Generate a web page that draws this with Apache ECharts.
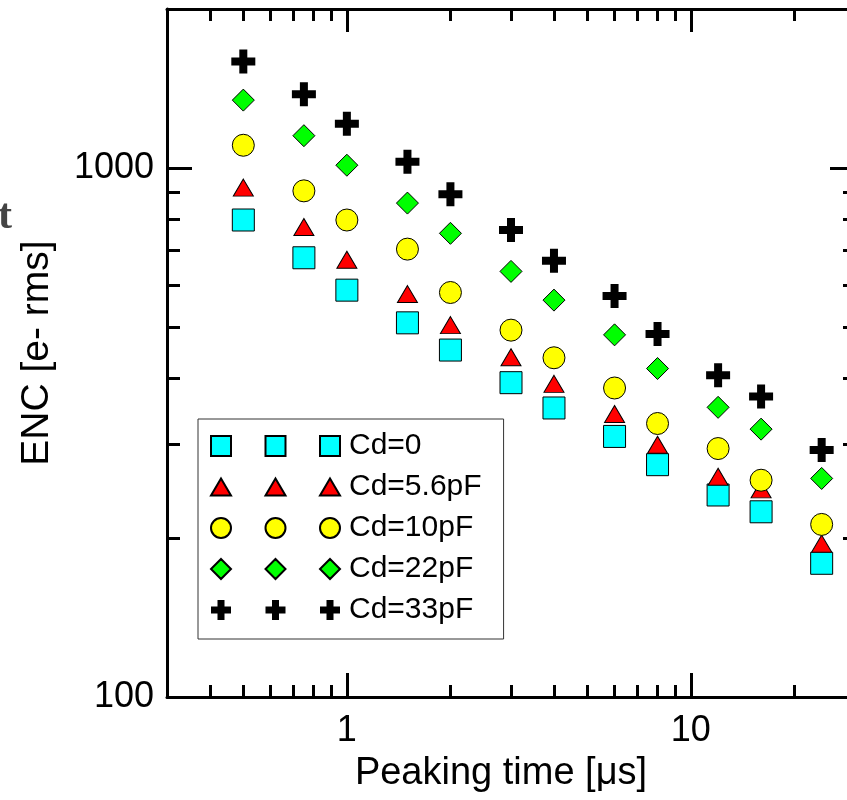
<!DOCTYPE html>
<html>
<head>
<meta charset="utf-8">
<script src="https://cdn.jsdelivr.net/npm/echarts@6/dist/echarts.min.js"></script>
<style>
  html, body { margin: 0; padding: 0; background: #fff; }
  #chart { width: 847px; height: 800px; }
</style>
</head>
<body>
<div id="chart"></div>
<script>
// Peaking time in microseconds (x) and ENC in electrons rms (y)
const peakingTimes = [0.5, 0.75, 1, 1.5, 2, 3, 4, 6, 8, 12, 16, 24];
const seriesNames = ['Cd=0', 'Cd=5.6pF', 'Cd=10pF', 'Cd=22pF', 'Cd=33pF'];
const encCd0   = [798, 677, 588, 510, 453, 393, 352, 311, 275, 241, 224, 179];
const encCd5p6 = [919, 774, 671, 578, 505, 439, 391, 343, 300, 261, 247, 195];
const encCd10  = [1105, 906, 798, 703, 582, 494, 438, 384, 329, 295, 257, 212];
const encCd22  = [1345, 1152, 1013, 859, 753, 638, 563, 484, 418, 353, 321, 259];
const encCd33  = [1591, 1380, 1213, 1028, 893, 764, 668, 573, 486, 406, 370, 293];

// Tick positions for the log axes
const xMajorTicks = [1, 10];
const xMinorTicks = [0.4, 0.5, 0.6, 0.7, 0.8, 0.9, 2, 3, 4, 5, 6, 7, 8, 9, 20, 30];
const yMajorTicks = [100, 1000];
const yMinorTicks = [200, 300, 400, 500, 600, 700, 800, 900, 2000];

const FONT = "'Liberation Sans', Arial, Helvetica, sans-serif";
const PLUS = 'path://M8,0H16V8H24V16H16V24H8V16H0V8H8Z';

// Legend icons: three copies of each marker side by side
const offsets = [0, 54.5, 109];
function triple(shape) { return 'path://' + offsets.map(shape).join(' '); }
const legendIcons = [
  triple(d => `M${d},0H${d + 20}V20H${d}Z`),
  triple(d => `M${d + 10},0L${d + 20},17L${d},17Z`),
  triple(d => `M${d},10A10,10 0 1 1 ${d + 20},10A10,10 0 1 1 ${d},10Z`),
  triple(d => `M${d + 10},0L${d + 20},10L${d + 10},20L${d},10Z`),
  triple(d => `M${d + 6.5},0H${d + 13.5}V6.5H${d + 20}V13.5H${d + 13.5}V20H${d + 6.5}V13.5H${d}V6.5H${d + 6.5}Z`)
];

const valueSets = [encCd0, encCd5p6, encCd10, encCd22, encCd33];
const symbols = ['rect', 'triangle', 'circle', 'diamond', PLUS];
const symbolSizes = [22, [20, 17], 22, 22, 24];
const fills = ['#00FFFF', '#FF0000', '#FFFF00', '#00FF00', '#000000'];

const series = seriesNames.map((name, i) => ({
  name: name,
  type: 'scatter',
  xAxisIndex: 0,
  yAxisIndex: 0,
  symbol: symbols[i],
  symbolSize: symbolSizes[i],
  itemStyle: i === 4
    ? { color: fills[i], borderWidth: 0, opacity: 1 }
    : { color: fills[i], borderColor: '#000', borderWidth: 1, opacity: 1 },
  emphasis: { disabled: true },
  data: peakingTimes.map((t, k) => [t, valueSets[i][k]])
}));

const axisLine = { show: true, onZero: false, lineStyle: { color: '#000', width: 3 } };
const noLine = { show: false, onZero: false };
const plainNumber = v => String(Math.round(v));

function logX(position, ticks, len, extra) {
  return Object.assign({
    type: 'log', logBase: 10, min: 0.3, max: 30, position: position,
    gridIndex: 0, splitLine: { show: false },
    axisTick: { show: true, inside: true, length: len, customValues: ticks,
                lineStyle: { color: '#000', width: 3 } },
    axisLabel: { show: false }
  }, extra);
}
function logY(position, ticks, len, extra) {
  return Object.assign({
    type: 'log', logBase: 10, min: 100, max: 2000, position: position,
    gridIndex: 0, splitLine: { show: false },
    axisTick: { show: true, inside: true, length: len, customValues: ticks,
                lineStyle: { color: '#000', width: 3 } },
    axisLabel: { show: false }
  }, extra);
}

const option = {
  animation: false,
  backgroundColor: '#fff',
  // partial letter at the left margin
  title: {
    text: 't', left: -2, top: 196, padding: 0,
    textStyle: { fontFamily: 'serif', fontSize: 42, fontWeight: 'bold', color: '#444' }
  },
  grid: { left: 167, top: 9, right: -8, bottom: 103, containLabel: false, outerBoundsMode: 'none' },
  xAxis: [
    logX('bottom', xMajorTicks, 24, {
      axisLine: axisLine,
      axisLabel: { show: true, customValues: xMajorTicks, margin: 16, formatter: plainNumber,
                   fontFamily: FONT, fontSize: 36, color: '#000' },
      name: 'Peaking time [\u03bcs]', nameLocation: 'middle', nameGap: 58,
      nameTextStyle: { fontFamily: FONT, fontSize: 38, color: '#000', padding: [0, 20, 0, 0] }
    }),
    logX('bottom', xMinorTicks, 12, { axisLine: noLine }),
    logX('top', xMajorTicks, 23, { axisLine: axisLine }),
    logX('top', xMinorTicks, 12, { axisLine: noLine })
  ],
  yAxis: [
    logY('left', yMajorTicks, 25, {
      axisLine: axisLine,
      axisLabel: { show: true, customValues: yMajorTicks, margin: 13, formatter: plainNumber,
                   fontFamily: FONT, fontSize: 36, color: '#000' },
      name: 'ENC [e- rms]', nameLocation: 'middle', nameGap: 110, nameRotate: 90,
      nameTextStyle: { fontFamily: FONT, fontSize: 39, color: '#000' }
    }),
    logY('left', yMinorTicks, 13, { axisLine: noLine }),
    logY('right', yMajorTicks, 25, { axisLine: axisLine }),
    logY('right', yMinorTicks, 12, { axisLine: noLine })
  ],
  legend: {
    orient: 'vertical',
    left: 198, top: 419,
    padding: [12, 22, 14, 12],
    itemGap: 11,
    itemWidth: 129, itemHeight: 20,
    borderColor: '#333', borderWidth: 1,
    backgroundColor: '#fff',
    selectedMode: false,
    textStyle: { fontFamily: FONT, fontSize: 30, color: '#000', padding: [0, 0, 0, 4] },
    data: seriesNames.map((name, i) => ({ name: name, icon: legendIcons[i] }))
  },
  series: series
};

const chart = echarts.init(document.getElementById('chart'), null, { renderer: 'canvas' });
chart.setOption(option);
</script>
</body>
</html>
